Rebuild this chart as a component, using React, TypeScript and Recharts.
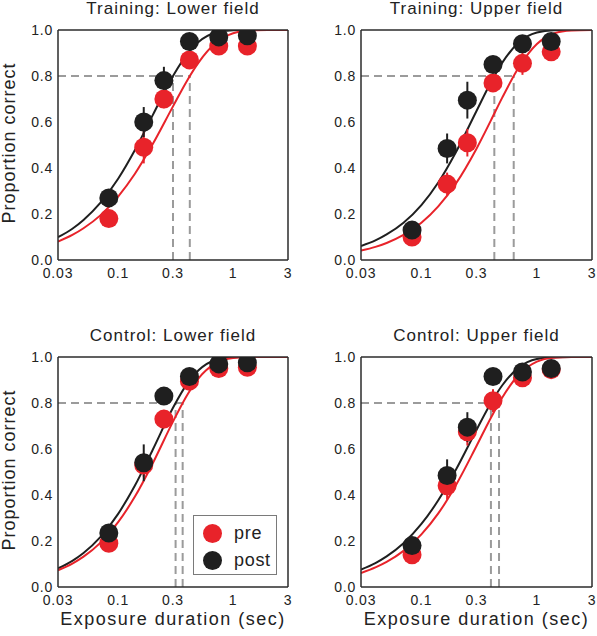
import React from "react"
import { ComposedChart, Line, Scatter, XAxis, YAxis, ErrorBar, ReferenceLine } from "recharts"

const RED = "#e8232a"
const BLACK = "#1f1f1f"
const GREY = "#9b9b9b"
const AXIS = "#2b2b2b"
const FONT = '"Liberation Sans", Arial, Helvetica, sans-serif'

const X_TICKS = [0.03, 0.1, 0.3, 1, 3]
const Y_TICKS = [0, 0.2, 0.4, 0.6, 0.8, 1]

// exposure durations (sec) of the data points
const durations = [0.083, 0.167, 0.25, 0.417, 0.75, 1.33]
const fitX = [0.03, 0.04, 0.05, 0.07, 0.1, 0.14, 0.2, 0.3, 0.4, 0.5, 0.7, 1, 1.4, 2, 3]

// Training: Lower field
const trainLowerPre = [0.18, 0.49, 0.7, 0.87, 0.93, 0.93]
const trainLowerPreErr = [0.02, 0.07, 0.04, 0.03, 0.02, 0.02]
const trainLowerPost = [0.27, 0.6, 0.78, 0.95, 0.97, 0.975]
const trainLowerPostErr = [0.02, 0.065, 0.06, 0.02, 0.015, 0.01]
const trainLowerPreFit = [0.08, 0.109, 0.138, 0.194, 0.276, 0.375, 0.504, 0.668, 0.782, 0.858, 0.942, 0.986, 0.998, 1, 1]
const trainLowerPostFit = [0.099, 0.136, 0.174, 0.248, 0.353, 0.478, 0.63, 0.8, 0.896, 0.948, 0.988, 0.999, 1, 1, 1]
const trainLowerThr = [0.42, 0.3]

// Training: Upper field
const trainUpperPre = [0.1, 0.33, 0.51, 0.77, 0.855, 0.905]
const trainUpperPreErr = [0.02, 0.05, 0.06, 0.03, 0.05, 0.02]
const trainUpperPost = [0.13, 0.485, 0.695, 0.85, 0.94, 0.95]
const trainUpperPostErr = [0.02, 0.065, 0.08, 0.03, 0.02, 0.02]
const trainUpperPreFit = [0.041, 0.057, 0.074, 0.109, 0.162, 0.233, 0.334, 0.484, 0.607, 0.705, 0.839, 0.939, 0.985, 0.998, 1]
const trainUpperPostFit = [0.061, 0.085, 0.111, 0.162, 0.239, 0.337, 0.471, 0.648, 0.773, 0.857, 0.947, 0.989, 0.999, 1, 1]
const trainUpperThr = [0.63, 0.428]

// Control: Lower field
const ctrlLowerPre = [0.19, 0.53, 0.73, 0.895, 0.95, 0.955]
const ctrlLowerPreErr = [0.02, 0.05, 0.04, 0.02, 0.02, 0.02]
const ctrlLowerPost = [0.235, 0.54, 0.83, 0.915, 0.97, 0.975]
const ctrlLowerPostErr = [0.02, 0.08, 0.02, 0.02, 0.01, 0.01]
const ctrlLowerPreFit = [0.073, 0.102, 0.132, 0.192, 0.282, 0.393, 0.538, 0.719, 0.836, 0.907, 0.972, 0.996, 1, 1, 1]
const ctrlLowerPostFit = [0.081, 0.114, 0.148, 0.217, 0.318, 0.441, 0.597, 0.779, 0.885, 0.942, 0.987, 0.999, 1, 1, 1]
const ctrlLowerThr = [0.364, 0.316]

// Control: Upper field
const ctrlUpperPre = [0.14, 0.44, 0.675, 0.81, 0.91, 0.945]
const ctrlUpperPreErr = [0.02, 0.06, 0.06, 0.05, 0.02, 0.02]
const ctrlUpperPost = [0.18, 0.485, 0.695, 0.915, 0.935, 0.95]
const ctrlUpperPostErr = [0.02, 0.07, 0.065, 0.02, 0.02, 0.02]
const ctrlUpperPreFit = [0.061, 0.085, 0.109, 0.157, 0.229, 0.32, 0.445, 0.613, 0.736, 0.823, 0.924, 0.98, 0.997, 1, 1]
const ctrlUpperPostFit = [0.076, 0.104, 0.133, 0.19, 0.274, 0.377, 0.512, 0.683, 0.8, 0.876, 0.955, 0.991, 0.999, 1, 1]
const ctrlUpperThr = [0.47, 0.4]

const seriesNames = ["pre", "post"]

const panels = [
  { title: "Training: Lower field", left: 58, top: 30, w: 230, h: 230, yLabel: true, xLabel: false,
    pre: trainLowerPre, preErr: trainLowerPreErr, post: trainLowerPost, postErr: trainLowerPostErr,
    preFit: trainLowerPreFit, postFit: trainLowerPostFit, thr: trainLowerThr },
  { title: "Training: Upper field", left: 361, top: 30, w: 231, h: 230, yLabel: false, xLabel: false,
    pre: trainUpperPre, preErr: trainUpperPreErr, post: trainUpperPost, postErr: trainUpperPostErr,
    preFit: trainUpperPreFit, postFit: trainUpperPostFit, thr: trainUpperThr },
  { title: "Control: Lower field", left: 58, top: 357, w: 230, h: 230, yLabel: true, xLabel: true,
    pre: ctrlLowerPre, preErr: ctrlLowerPreErr, post: ctrlLowerPost, postErr: ctrlLowerPostErr,
    preFit: ctrlLowerPreFit, postFit: ctrlLowerPostFit, thr: ctrlLowerThr },
  { title: "Control: Upper field", left: 361, top: 357, w: 231, h: 230, yLabel: false, xLabel: true,
    pre: ctrlUpperPre, preErr: ctrlUpperPreErr, post: ctrlUpperPost, postErr: ctrlUpperPostErr,
    preFit: ctrlUpperPreFit, postFit: ctrlUpperPostFit, thr: ctrlUpperThr },
]

const tickStyle = { fill: "#222", fontSize: 14, fontFamily: FONT, letterSpacing: 0.8 }

const dot = (color: string) => (props: any) => (
  <circle cx={props.cx} cy={props.cy} r={9.5} fill={color} />
)

function Panel({ p }: { p: any }) {
  const chartW = p.w + 58 + 6
  const chartH = p.h + 30 + 40
  const pts = (ys: number[], es: number[]) => durations.map((x, i) => ({ x, y: ys[i], e: es[i] }))
  const fit = (ys: number[]) => fitX.map((x, i) => ({ x, y: ys[i] }))
  const thrMax = Math.max(...p.thr)
  const ax = { xAxisId: "b", yAxisId: "l" }

  return (
    <div style={{ position: "absolute", left: p.left - 58, top: p.top - 30 }}>
      <ComposedChart width={chartW} height={chartH} margin={{ top: 30, left: 18, right: 6, bottom: 10 }}>
        <XAxis xAxisId="b" type="number" dataKey="x" scale="log" domain={[0.03, 3]} ticks={X_TICKS}
          allowDataOverflow tickFormatter={(v) => String(v)} axisLine={false} tickLine={false}
          tickSize={0} tickMargin={8} height={30} tick={tickStyle} interval={0} />
        <XAxis xAxisId="bi" type="number" dataKey="x" scale="log" domain={[0.03, 3]} ticks={X_TICKS}
          allowDataOverflow mirror tick={false} tickSize={5} interval={0}
          axisLine={{ stroke: AXIS, strokeWidth: 1.5 }} tickLine={{ stroke: AXIS, strokeWidth: 1.2 }} />
        <XAxis xAxisId="ti" orientation="top" type="number" dataKey="x" scale="log" domain={[0.03, 3]} ticks={X_TICKS}
          allowDataOverflow mirror tick={false} tickSize={5} interval={0}
          axisLine={{ stroke: AXIS, strokeWidth: 1.5 }} tickLine={{ stroke: AXIS, strokeWidth: 1.2 }} />
        <YAxis yAxisId="l" type="number" dataKey="y" domain={[0, 1]} ticks={Y_TICKS} allowDataOverflow
          tickFormatter={(v) => v.toFixed(1)} axisLine={false} tickLine={false} tickSize={0} tickMargin={5}
          width={40} tick={tickStyle} interval={0} />
        <YAxis yAxisId="li" type="number" dataKey="y" domain={[0, 1]} ticks={Y_TICKS} allowDataOverflow
          mirror tick={false} tickSize={5} interval={0}
          axisLine={{ stroke: AXIS, strokeWidth: 1.5 }} tickLine={{ stroke: AXIS, strokeWidth: 1.2 }} />
        <YAxis yAxisId="ri" orientation="right" type="number" dataKey="y" domain={[0, 1]} ticks={Y_TICKS}
          allowDataOverflow mirror tick={false} tickSize={5} interval={0}
          axisLine={{ stroke: AXIS, strokeWidth: 1.5 }} tickLine={{ stroke: AXIS, strokeWidth: 1.2 }} />

        <ReferenceLine {...ax} segment={[{ x: 0.03, y: 0.8 }, { x: thrMax, y: 0.8 }]}
          stroke={GREY} strokeWidth={2} strokeDasharray="8 5" />
        {p.thr.map((t: number, i: number) => (
          <ReferenceLine key={i} {...ax} segment={[{ x: t, y: 0 }, { x: t, y: 0.8 }]}
            stroke={GREY} strokeWidth={2} strokeDasharray="8 5" />
        ))}

        <Line {...ax} data={fit(p.postFit)} dataKey="y" type="monotone" stroke={BLACK} strokeWidth={2}
          dot={false} activeDot={false} isAnimationActive={false} />
        <Line {...ax} data={fit(p.preFit)} dataKey="y" type="monotone" stroke={RED} strokeWidth={2}
          dot={false} activeDot={false} isAnimationActive={false} />

        <Scatter {...ax} name={seriesNames[0]} data={pts(p.pre, p.preErr)} dataKey="y" shape={dot(RED)}
          isAnimationActive={false}>
          <ErrorBar dataKey="e" direction="y" width={0} stroke={RED} strokeWidth={2} />
        </Scatter>
        <Scatter {...ax} name={seriesNames[1]} data={pts(p.post, p.postErr)} dataKey="y" shape={dot(BLACK)}
          isAnimationActive={false}>
          <ErrorBar dataKey="e" direction="y" width={0} stroke={BLACK} strokeWidth={2} />
        </Scatter>
      </ComposedChart>
    </div>
  )
}

function Legend() {
  const colors = [RED, BLACK]
  return (
    <div style={{ position: "absolute", left: 193, top: 515, width: 82, height: 58, border: "1px solid #7a7a7a",
      background: "#fff", fontFamily: FONT }}>
      {seriesNames.map((n, i) => (
        <div key={n} style={{ position: "absolute", left: 0, top: 4 + i * 27, height: 27, display: "flex", alignItems: "center" }}>
          <div style={{ width: 19, height: 19, borderRadius: "50%", background: colors[i], marginLeft: 9 }} />
          <span style={{ marginLeft: 12, fontSize: 18, letterSpacing: 0.7, color: "#222" }}>{n}</span>
        </div>
      ))}
    </div>
  )
}

export default function App() {
  return (
    <div style={{ position: "absolute", left: 0, top: 0, width: 597, height: 636, background: "#fff", fontFamily: FONT, color: "#222" }}>
      {panels.map((p, i) => (
        <React.Fragment key={i}>
          <Panel p={p} />
          <div style={{ position: "absolute", left: p.left + p.w / 2 - 150, width: 300, top: p.top - 30,
            textAlign: "center", fontSize: 17, lineHeight: 1, letterSpacing: 1, whiteSpace: "nowrap" }}>
            {p.title}
          </div>
          {p.yLabel && (
            <div style={{ position: "absolute", left: 8.8 - 150, width: 300, top: p.top + p.h / 2 - 2 - 9,
              textAlign: "center", fontSize: 18, lineHeight: 1, letterSpacing: 1, whiteSpace: "nowrap",
              transform: "rotate(-90deg)" }}>
              Proportion correct
            </div>
          )}
          {p.xLabel && (
            <div style={{ position: "absolute", left: p.left + p.w / 2 - 150, width: 300, top: p.top + p.h + 22.5,
              textAlign: "center", fontSize: 18, lineHeight: 1, letterSpacing: 1.5, whiteSpace: "nowrap" }}>
              Exposure duration (sec)
            </div>
          )}
        </React.Fragment>
      ))}
      <Legend />
    </div>
  )
}
